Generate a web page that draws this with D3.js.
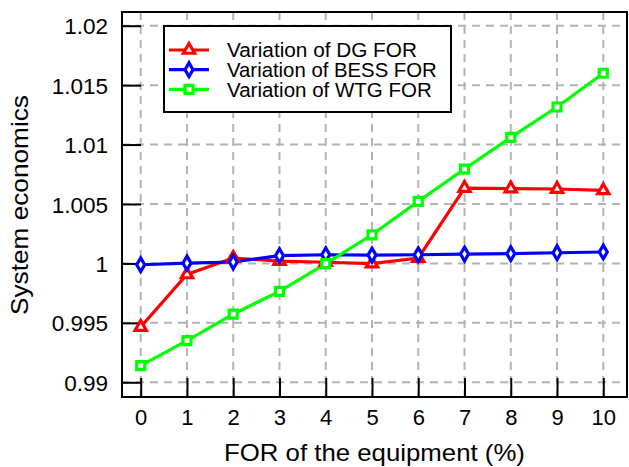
<!DOCTYPE html>
<html><head><meta charset="utf-8">
<script src="https://cdn.jsdelivr.net/npm/d3@7"></script>
<style>body{margin:0;background:#fff}svg{display:block}text{font-family:"Liberation Sans",Arial,sans-serif;fill:#000}</style>
</head><body><svg id="c" width="629" height="467"></svg>
<script>
const categories = [0,1,2,3,4,5,6,7,8,9,10];
const dgFOR   = [0.99465,0.99907,1.00045,1.0002,1.0001,0.99998,1.00045,1.00634,1.0063,1.00626,1.00614];
const bessFOR = [0.99989,1.00003,1.00012,1.00065,1.00073,1.0007,1.00073,1.00079,1.00082,1.0009,1.00096];
const wtgFOR  = [0.9914,0.9935,0.99574,0.99765,0.99998,1.00241,1.00522,1.00794,1.0106,1.01316,1.016];
const yTicks = [0.99,0.995,1,1.005,1.01,1.015,1.02];
const yTickLabels = ["0.99","0.995","1","1.005","1.01","1.015","1.02"];
const seriesNames = ["Variation of DG FOR","Variation of BESS FOR","Variation of WTG FOR"];

const svg = d3.select("#c");
const L=122,R=627,T=12,B=397;
const x = d3.scaleLinear().domain([0,10]).range([140.7,603.3]);
const y = d3.scaleLinear().domain([0.99,1.02]).range([382.3,25.7]);

function fitText(sel, x0, y0, target, rot) {
  const w = sel.node().getComputedTextLength();
  sel.attr("transform", `translate(${x0},${y0})${rot?` rotate(${rot})`:""} scale(${target/w},1)`);
}

// grid
const g = svg.append("g");
g.selectAll("line.vx").data(categories).enter().append("line")
 .attr("x1",d=>x(d)).attr("x2",d=>x(d)).attr("y1",T).attr("y2",B)
 .attr("stroke","#b4b4b4").attr("stroke-width",2).attr("stroke-dasharray","8,6");
g.selectAll("line.hy").data(yTicks).enter().append("line")
 .attr("y1",d=>y(d)).attr("y2",d=>y(d)).attr("x1",L).attr("x2",R)
 .attr("stroke","#b4b4b4").attr("stroke-width",2).attr("stroke-dasharray","8,6");

// axes
const xAxis = d3.axisBottom(x).tickValues(categories).tickSizeInner(-19).tickSizeOuter(0).tickPadding(28).tickFormat(d3.format("d"));
const xa = svg.append("g").attr("transform",`translate(0,${B})`).call(xAxis);
xa.select(".domain").remove();
xa.selectAll("line").attr("stroke","#000").attr("stroke-width",2);
xa.selectAll("text").style("font-size","22px").attr("dy","0");

const yAxis = d3.axisLeft(y).tickValues(yTicks).tickSizeInner(-19).tickSizeOuter(0).tickPadding(14).tickFormat((d,i)=>yTickLabels[i]);
const ya = svg.append("g").attr("transform",`translate(${L},0)`).call(yAxis);
ya.select(".domain").remove();
ya.selectAll("line").attr("stroke","#000").attr("stroke-width",2);
ya.selectAll("text").style("font-size","22.5px").attr("dy","0.36em");

// lines
const line = d3.line().x((d,i)=>x(categories[i])).y(d=>y(d));
const series = [
 {vals:dgFOR,color:"#ff0000",sym:d3.symbolTriangle,size:55},
 {vals:bessFOR,color:"#0000ff",sym:d3.symbolDiamond,size:55},
 {vals:wtgFOR,color:"#00ff00",sym:d3.symbolSquare,size:64}
];
series.forEach(s=>{
 svg.append("path").datum(s.vals).attr("d",line).attr("fill","none").attr("stroke",s.color).attr("stroke-width",3.2);
});
series.forEach(s=>{
 svg.append("g").selectAll("path").data(s.vals).enter().append("path")
  .attr("d",d3.symbol().type(s.sym).size(s.size))
  .attr("transform",(d,i)=>`translate(${x(categories[i])},${y(d)})`)
  .attr("fill","#fff").attr("stroke",s.color).attr("stroke-width",3.2);
});

// frame
svg.append("rect").attr("x",L).attr("y",T).attr("width",R-L).attr("height",B-T).attr("fill","none").attr("stroke","#000").attr("stroke-width",2);

// legend
const legendLens = [190,210,205];
const lg = svg.append("g");
lg.append("rect").attr("x",164).attr("y",26).attr("width",287).attr("height",86).attr("fill","#fff").attr("stroke","#000").attr("stroke-width",2);
series.forEach((s,i)=>{
 const yy = 50 + i*19.7;
 lg.append("line").attr("x1",169).attr("x2",209).attr("y1",yy).attr("y2",yy).attr("stroke",s.color).attr("stroke-width",3.2);
 lg.append("path").attr("d",d3.symbol().type(s.sym).size(s.size)).attr("transform",`translate(189,${yy})`).attr("fill","#fff").attr("stroke",s.color).attr("stroke-width",3.2);
 const t = lg.append("text").attr("dy","0.36em").style("font-size","20px").text(seriesNames[i]);
 fitText(t, 227, yy, legendLens[i]);
});

// labels
const xl = svg.append("text").style("font-size","24px").text("FOR of the equipment (%)");
fitText(xl, 224, 461, 301);
const yl = svg.append("text").style("font-size","24px").text("System economics");
fitText(yl, 28, 315, 220, -90);
</script></body></html>
